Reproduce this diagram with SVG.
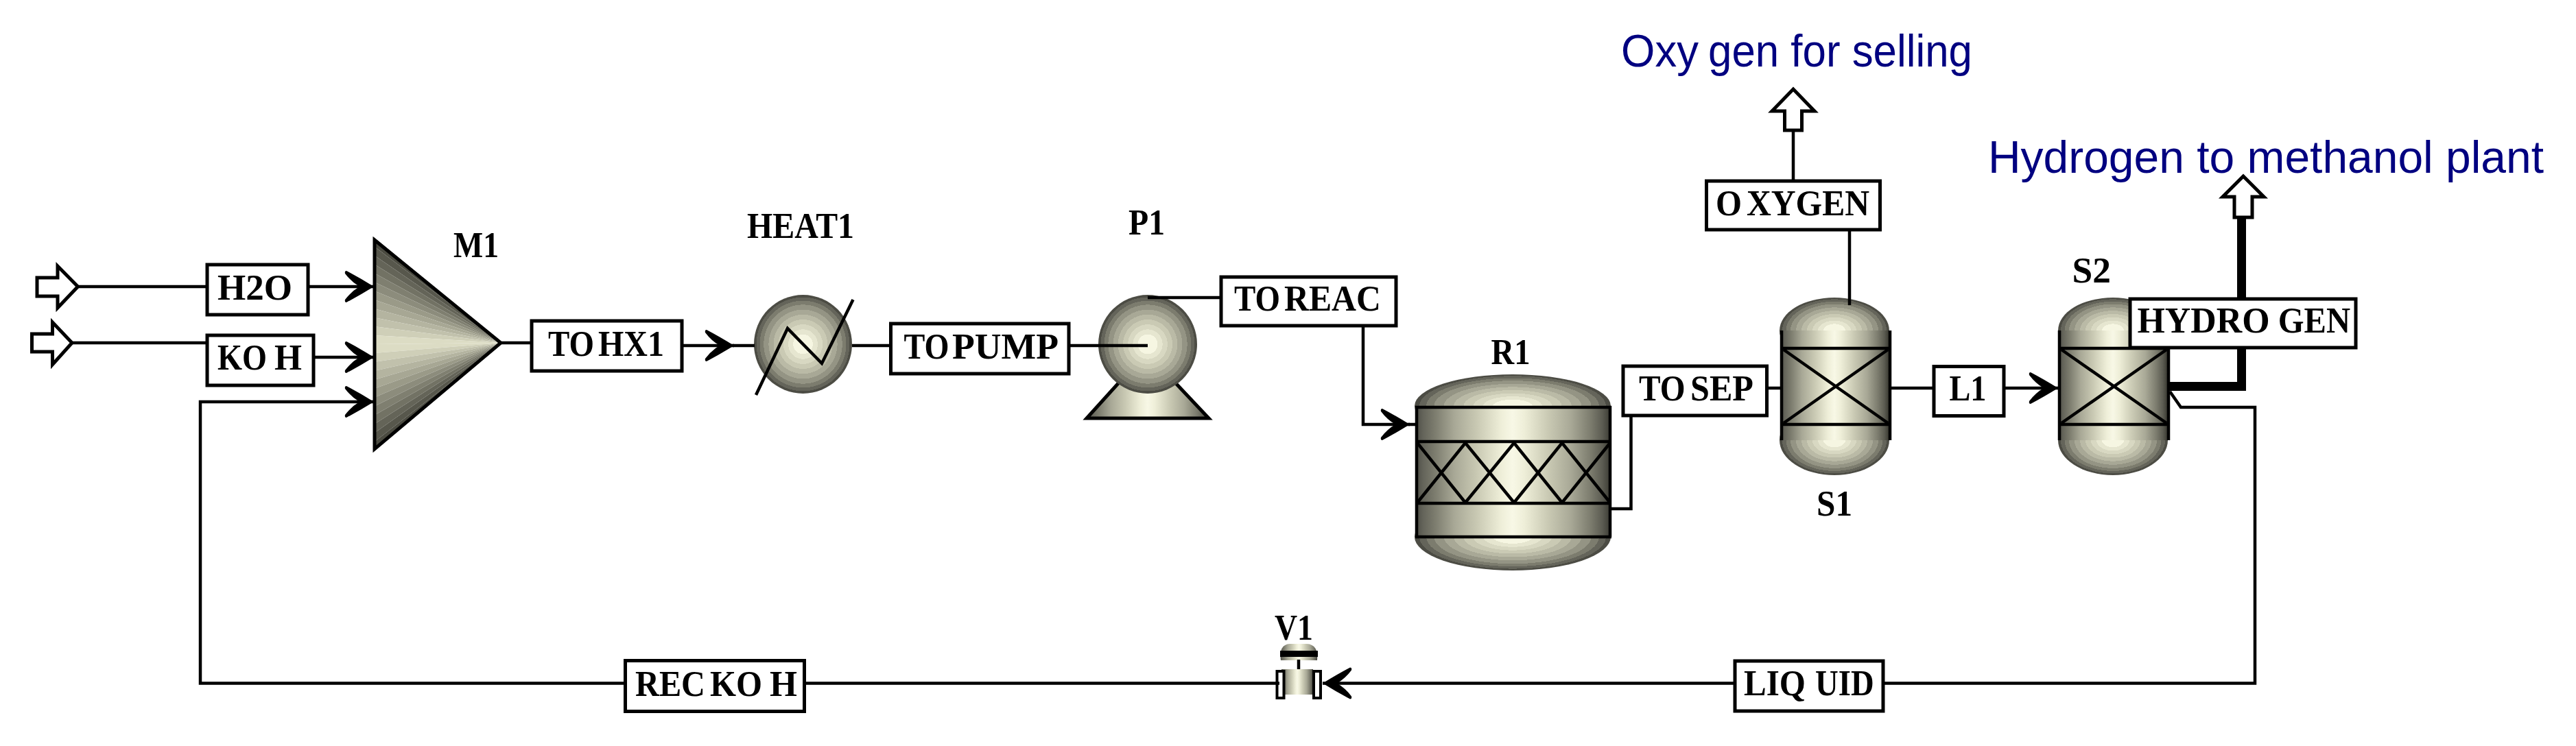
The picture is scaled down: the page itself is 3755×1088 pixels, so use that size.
<svg xmlns="http://www.w3.org/2000/svg" width="3755" height="1088" viewBox="0 0 3755 1088">
<style>
.lb{font-family:"Liberation Serif","Times New Roman",serif;font-weight:bold;font-size:53px;fill:#000}
.bl{font-family:"Liberation Sans",Arial,sans-serif;font-size:67px;fill:#000080}
.box{fill:#fff;stroke:#000;stroke-width:5}
.c{fill:none;stroke:#000;stroke-width:4.5;stroke-linejoin:miter}
.t{fill:none;stroke:#000;stroke-width:4.5}
.io{fill:#fff;stroke:#000;stroke-width:5;stroke-linejoin:miter}
.m0{fill:#dcdcc4}.m1{fill:#cfcfb8}.m2{fill:#c1c1ac}.m3{fill:#b4b4a0}.m4{fill:#a7a794}.m5{fill:#9a9a88}.m6{fill:#8c8c7c}.m7{fill:#7f7f70}.m8{fill:#727264}.m9{fill:#646458}.m10{fill:#57574c}.m11{fill:#4a4a40}
</style>
<defs>
<radialGradient id="rg" cx=".5" cy=".5" r=".5">
<stop offset="0" stop-color="#f6f6e2"/><stop offset=".2" stop-color="#f6f6e2"/>
<stop offset=".2" stop-color="#e6e6d0"/><stop offset=".3" stop-color="#e6e6d0"/>
<stop offset=".3" stop-color="#d8d8c2"/><stop offset=".4" stop-color="#d8d8c2"/>
<stop offset=".4" stop-color="#cacab4"/><stop offset=".5" stop-color="#cacab4"/>
<stop offset=".5" stop-color="#babaa6"/><stop offset=".6" stop-color="#babaa6"/>
<stop offset=".6" stop-color="#a8a896"/><stop offset=".7" stop-color="#a8a896"/>
<stop offset=".7" stop-color="#949484"/><stop offset=".8" stop-color="#949484"/>
<stop offset=".8" stop-color="#7c7c6e"/><stop offset=".88" stop-color="#7c7c6e"/>
<stop offset=".88" stop-color="#64645a"/><stop offset=".95" stop-color="#64645a"/>
<stop offset=".95" stop-color="#4c4c44"/><stop offset="1" stop-color="#4c4c44"/>
</radialGradient>
<linearGradient id="hg" x1="0" x2="1" y1="0" y2="0">
<stop offset="0" stop-color="#4c4c44"/><stop offset=".04" stop-color="#64645a"/><stop offset=".1" stop-color="#7c7c6e"/><stop offset=".2" stop-color="#a8a896"/><stop offset=".32" stop-color="#cacab4"/><stop offset=".44" stop-color="#eeeed8"/><stop offset=".5" stop-color="#f8f8e6"/><stop offset=".56" stop-color="#eeeed8"/><stop offset=".68" stop-color="#cacab4"/><stop offset=".8" stop-color="#a8a896"/><stop offset=".9" stop-color="#7c7c6e"/><stop offset=".96" stop-color="#5c5c52"/><stop offset="1" stop-color="#3c3c34"/>
</linearGradient>
<marker id="ah" markerUnits="userSpaceOnUse" markerWidth="46" markerHeight="50" refX="43" refY="25" orient="auto" viewBox="0 0 46 50">
<path d="M43 25Q22 12 3 2Q0 2 1 6Q10 18 22 25Q10 32 1 44Q0 48 3 48Q22 38 43 25Z" fill="#000"/>
</marker>
</defs>

<g id="M1">
<polygon class="m11" points="731,500 545,346 545,359"/><polygon class="m10" points="731,500 545,359 545,372"/><polygon class="m9" points="731,500 545,372 545,385"/><polygon class="m8" points="731,500 545,385 545,398"/><polygon class="m7" points="731,500 545,398 545,411"/><polygon class="m6" points="731,500 545,411 545,424"/><polygon class="m5" points="731,500 545,424 545,437"/><polygon class="m4" points="731,500 545,437 545,450"/><polygon class="m3" points="731,500 545,450 545,463"/><polygon class="m2" points="731,500 545,463 545,476"/><polygon class="m1" points="731,500 545,476 545,489"/><polygon class="m0" points="731,500 545,489 545,502"/>
<polygon class="m0" points="731,500 545,502 545,515"/><polygon class="m1" points="731,500 545,515 545,528"/><polygon class="m2" points="731,500 545,528 545,541"/><polygon class="m3" points="731,500 545,541 545,554"/><polygon class="m4" points="731,500 545,554 545,567"/><polygon class="m5" points="731,500 545,567 545,580"/><polygon class="m6" points="731,500 545,580 545,593"/><polygon class="m7" points="731,500 545,593 545,606"/><polygon class="m8" points="731,500 545,606 545,619"/><polygon class="m9" points="731,500 545,619 545,632"/><polygon class="m10" points="731,500 545,632 545,645"/><polygon class="m11" points="731,500 545,645 545,658"/>
<polygon points="546,350 546,655 730,500" fill="none" stroke="#000" stroke-width="5"/>
<text class="lb" x="661" y="375" textLength="66" lengthAdjust="spacingAndGlyphs">M1</text>
</g>

<g id="HEAT1">
<ellipse cx="1170.5" cy="502" rx="71.5" ry="72" fill="url(#rg)"/>
<polyline class="t" points="1102,576 1148,479 1198,530 1243.5,437"/>
<text class="lb" x="1089" y="346.7" textLength="156" lengthAdjust="spacingAndGlyphs">HEAT1</text>
</g>

<g id="P1">
<polygon points="1631,558 1713,558 1762,610 1584,610" fill="url(#hg)" stroke="#000" stroke-width="5"/>
<ellipse cx="1673" cy="502" rx="72" ry="72" fill="url(#rg)"/>
<text class="lb" x="1645" y="341.7" textLength="53" lengthAdjust="spacingAndGlyphs">P1</text>
</g>

<g id="R1">
<ellipse cx="2205" cy="592" rx="143" ry="46" fill="url(#rg)"/>
<ellipse cx="2205" cy="783" rx="143" ry="49" fill="url(#rg)"/>
<rect x="2063" y="592" width="284" height="191" fill="url(#hg)"/>
<path d="M2065 592V783M2347 592V783M2063 594H2349M2063 644H2349M2063 734H2349M2063 783H2349" class="t" stroke-width="5"/>
<path d="M2066 646L2136 733M2136 646L2066 733M2136 646L2207 733M2207 646L2136 733M2207 646L2277 733M2277 646L2207 733M2277 646L2347 733M2347 646L2277 733" class="t"/>
<text class="lb" x="2173.5" y="530.7" textLength="57" lengthAdjust="spacingAndGlyphs">R1</text>
</g>

<g id="S1">
<ellipse cx="2674" cy="482" rx="80" ry="48" fill="url(#rg)"/>
<ellipse cx="2674" cy="642" rx="80" ry="51" fill="url(#rg)"/>
<rect x="2595" y="482" width="158" height="160" fill="url(#hg)"/>
<path d="M2597 482V642M2755 482V642M2597 508H2755M2597 619H2755M2600 510L2752 617M2752 510L2600 617" class="t"/>
<text class="lb" x="2648" y="751.7" textLength="52" lengthAdjust="spacingAndGlyphs">S1</text>
</g>

<g id="S2">
<ellipse cx="3080" cy="482" rx="80" ry="48" fill="url(#rg)"/>
<ellipse cx="3080" cy="642" rx="80" ry="51" fill="url(#rg)"/>
<rect x="3001" y="482" width="158" height="160" fill="url(#hg)"/>
<path d="M3002 482V642M3161 482V642M3002 508H3161M3002 619H3161M3005 510L3158 617M3158 510L3005 617" class="t"/>
<text class="lb" x="3020.5" y="412" textLength="56.5" lengthAdjust="spacingAndGlyphs">S2</text>
</g>

<g id="V1">
<path d="M1867 963Q1864 940 1880 939H1905Q1922 940 1920 963L1893 963Z" fill="url(#hg)"/>
<rect x="1866" y="949" width="55" height="9" fill="#000"/>
<path d="M1893 962V979" class="t" stroke-width="6"/>
<rect x="1868" y="976" width="46" height="37" fill="url(#hg)"/>
<rect x="1861.5" y="979" width="10" height="39" fill="#fff" stroke="#000" stroke-width="4"/>
<rect x="1915" y="979" width="10" height="39" fill="#fff" stroke="#000" stroke-width="4"/>
<text class="lb" x="1858" y="933" textLength="56" lengthAdjust="spacingAndGlyphs">V1</text>
</g>

<g id="connectors">
<polyline class="c" points="113,418 545,418" marker-end="url(#ah)"/>
<polyline class="c" points="105,500 380,500 380,521 545,521" marker-end="url(#ah)"/>
<polyline class="c" points="1865,996.5 292,996.5 292,586 545,586" marker-end="url(#ah)"/>
<polyline class="c" points="731,500 880,500 880,504 1070,504" marker-end="url(#ah)"/>
<line class="c" x1="1068" y1="504" x2="1100" y2="504"/>
<line class="c" x1="1242" y1="504" x2="1673" y2="504"/>
<polyline class="c" points="1673,434 1987,434 1987,619 2055,619" marker-end="url(#ah)"/>
<line class="c" x1="2053" y1="619" x2="2063" y2="619"/>
<polyline class="c" points="2349,742 2377.5,742 2377.5,566 2595,566"/>
<polyline class="c" points="2755,566 3000,566" marker-end="url(#ah)"/>
<polyline class="c" points="2696,445 2696,300 2614,300 2614,190"/>
<polyline fill="none" stroke="#000" stroke-width="13" points="3162,563.5 3267.5,563.5 3267.5,317"/>
<polyline class="c" points="3163,571 3179,594 3287,594 3287,996.5 1928,996.5" marker-end="url(#ah)"/>
<polygon class="io" points="54,405 84,405 84,388 113.5,418 84,449 84,432 54,432"/>
<polygon class="io" points="46.5,487 76.5,487 76.5,470 105,500 76.5,531.7 76.5,513 46.5,513"/>
<polygon class="io" points="2601.5,190 2601.5,162 2583,162 2614,130 2645,162 2626.5,162 2626.5,190"/>
<polygon class="io" points="3257,317 3257,287 3240,287 3270,257 3300,287 3283,287 3283,317"/>
</g>

<g id="H2O"><rect class="box" x="302" y="386" width="147" height="73"/><text class="lb" x="317" y="436.7" textLength="109" lengthAdjust="spacingAndGlyphs">H2O</text></g>
<g id="KOH"><rect class="box" x="302" y="489" width="155" height="73"/><text class="lb" y="538.7"><tspan x="317" textLength="72" lengthAdjust="spacingAndGlyphs">KO</tspan><tspan x="400" textLength="40" lengthAdjust="spacingAndGlyphs">H</tspan></text></g>
<g id="TOHX1"><rect class="box" x="775" y="468" width="219" height="73"/><text class="lb" y="518.7"><tspan x="799" textLength="67" lengthAdjust="spacingAndGlyphs">TO</tspan><tspan x="872" textLength="96" lengthAdjust="spacingAndGlyphs">HX1</tspan></text></g>
<g id="TOPUMP"><rect class="box" x="1298.5" y="472" width="259.5" height="73"/><text class="lb" y="522.7"><tspan x="1317.6" textLength="66" lengthAdjust="spacingAndGlyphs">TO</tspan><tspan x="1388" textLength="155" lengthAdjust="spacingAndGlyphs">PUMP</tspan></text></g>
<g id="TOREAC"><rect class="box" x="1780" y="404" width="255" height="71"/><text class="lb" y="453"><tspan x="1799" textLength="67" lengthAdjust="spacingAndGlyphs">TO</tspan><tspan x="1872" textLength="141" lengthAdjust="spacingAndGlyphs">REAC</tspan></text></g>
<g id="TOSEP"><rect class="box" x="2366" y="534" width="209.5" height="72"/><text class="lb" y="584.3"><tspan x="2389" textLength="67.6" lengthAdjust="spacingAndGlyphs">TO</tspan><tspan x="2464" textLength="92" lengthAdjust="spacingAndGlyphs">SEP</tspan></text></g>
<g id="OXYGEN"><rect class="box" x="2487.5" y="264" width="253" height="71"/><text class="lb" y="314.3"><tspan x="2501" textLength="38" lengthAdjust="spacingAndGlyphs">O</tspan><tspan x="2546" textLength="179" lengthAdjust="spacingAndGlyphs">XYGEN</tspan></text></g>
<g id="L1"><rect class="box" x="2819" y="534.5" width="102" height="72"/><text class="lb" x="2841.4" y="583.6" textLength="54" lengthAdjust="spacingAndGlyphs">L1</text></g>
<g id="HYDROGEN"><rect class="box" x="3105" y="436" width="329" height="71"/><text class="lb" y="485.4"><tspan x="3115.5" textLength="193" lengthAdjust="spacingAndGlyphs">HYDRO</tspan><tspan x="3320.7" textLength="105.3" lengthAdjust="spacingAndGlyphs">GEN</tspan></text></g>
<g id="LIQUID"><rect class="box" x="2529" y="964" width="216" height="73"/><text class="lb" y="1014.3"><tspan x="2542" textLength="90" lengthAdjust="spacingAndGlyphs">LIQ</tspan><tspan x="2646" textLength="85.6" lengthAdjust="spacingAndGlyphs">UID</tspan></text></g>
<g id="RECKOH"><rect class="box" x="911.5" y="963.5" width="261" height="74"/><text class="lb" y="1015"><tspan x="926" textLength="102" lengthAdjust="spacingAndGlyphs">REC</tspan><tspan x="1035" textLength="76" lengthAdjust="spacingAndGlyphs">KO</tspan><tspan x="1122" textLength="40" lengthAdjust="spacingAndGlyphs">H</tspan></text></g>

<text class="bl" y="96.7"><tspan x="2363" textLength="113" lengthAdjust="spacingAndGlyphs">Oxy</tspan><tspan x="2490" textLength="385" lengthAdjust="spacingAndGlyphs">gen for selling</tspan></text>
<text class="bl" x="2898" y="251.7" textLength="810" lengthAdjust="spacingAndGlyphs">Hydrogen to methanol plant</text>
</svg>
